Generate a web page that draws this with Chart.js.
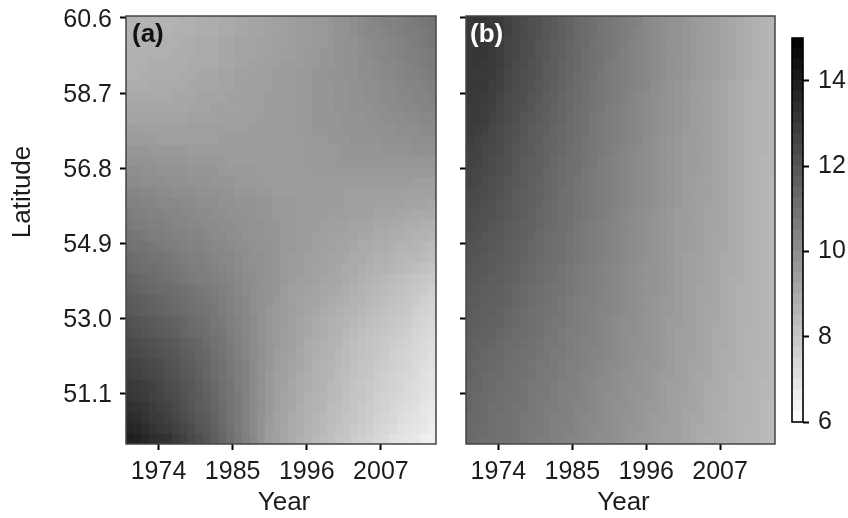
<!DOCTYPE html>
<html><head><meta charset="utf-8">
<style>html,body{margin:0;padding:0;background:#fff;width:848px;height:518px;overflow:hidden}canvas{position:absolute;top:0}</style>
<script src="https://cdn.jsdelivr.net/npm/chart.js@4"></script>
</head><body>
<canvas id="ca" width="440" height="518" style="left:0"></canvas>
<canvas id="cb" width="340" height="518" style="left:440px"></canvas>
<canvas id="cc" width="68" height="518" style="left:780px"></canvas>
<script>
const years=[1969.75,1970.9,1972.05,1973.2,1974.35,1975.5,1976.65,1977.8,1978.95,1980.1,1981.25,1982.4,1983.55,1984.7,1985.85,1987,1988.15,1989.3,1990.45,1991.6,1992.75,1993.9,1995.05,1996.2,1997.35,1998.5,1999.65,2000.8,2001.95,2003.1,2004.25,2005.4,2006.55,2007.7,2008.85,2010,2011.15,2012.3,2013.45,2014.6];
const latEdges=[60.65,60.38,60.11,59.84,59.57,59.30,59.03,58.75,58.48,58.21,57.94,57.67,57.40,57.13,56.86,56.59,56.32,56.05,55.78,55.51,55.24,54.97,54.69,54.42,54.15,53.88,53.61,53.34,53.07,52.80,52.53,52.26,51.99,51.72,51.45,51.18,50.91,50.63,50.36,50.09,49.82];
const yearTicks=[1974,1985,1996,2007];
const latTicks=[51.1,53.0,54.9,56.8,58.7,60.6];
const barTicks=[6,8,10,12,14];
const barLevels=[6,6.25,6.5,6.75,7,7.25,7.5,7.75,8,8.25,8.5,8.75,9,9.25,9.5,9.75,10,10.25,10.5,10.75,11,11.25,11.5,11.75,12,12.25,12.5,12.75,13,13.25,13.5,13.75,14,14.25,14.5,14.75];
const panelA=[
[8.7,8.7,8.7,8.7,8.7, 8.7,8.7,8.8,8.8,8.9, 8.9,8.9,9.0,9.0,9.1, 9.1,9.2,9.2,9.3,9.3, 9.4,9.4,9.5,9.5,9.6, 9.6,9.7,9.8,9.9,10.0, 10.1,10.2,10.3,10.4,10.4, 10.5,10.6,10.7,10.8,10.9],
[8.7,8.7,8.7,8.7,8.7, 8.7,8.8,8.8,8.8,8.9, 8.9,8.9,9.0,9.0,9.1, 9.1,9.2,9.2,9.3,9.3, 9.4,9.4,9.5,9.5,9.6, 9.6,9.7,9.8,9.9,10.0, 10.1,10.2,10.2,10.3,10.4, 10.5,10.6,10.6,10.7,10.8],
[8.7,8.7,8.7,8.8,8.8, 8.8,8.8,8.9,8.9,9.0, 9.0,9.0,9.1,9.1,9.2, 9.2,9.2,9.3,9.3,9.4, 9.4,9.4,9.5,9.5,9.6, 9.6,9.7,9.8,9.9,9.9, 10.0,10.1,10.2,10.2,10.3, 10.4,10.5,10.6,10.7,10.8],
[8.8,8.8,8.8,8.8,8.8, 8.8,8.9,8.9,8.9,9.0, 9.0,9.0,9.1,9.1,9.2, 9.2,9.2,9.3,9.3,9.4, 9.4,9.4,9.5,9.6,9.6, 9.7,9.7,9.8,9.9,9.9, 10.0,10.1,10.2,10.2,10.3, 10.4,10.5,10.5,10.6,10.7],
[8.8,8.8,8.8,8.9,8.9, 8.9,8.9,8.9,9.0,9.0, 9.0,9.0,9.1,9.1,9.2, 9.2,9.3,9.3,9.4,9.4, 9.5,9.5,9.5,9.6,9.6, 9.7,9.7,9.8,9.8,9.9, 10.0,10.0,10.1,10.2,10.2, 10.3,10.4,10.5,10.6,10.7],
[8.8,8.8,8.9,8.9,8.9, 8.9,8.9,9.0,9.0,9.1, 9.1,9.1,9.2,9.2,9.3, 9.3,9.3,9.4,9.4,9.5, 9.5,9.5,9.6,9.6,9.7, 9.7,9.8,9.8,9.9,9.9, 10.0,10.0,10.1,10.2,10.2, 10.3,10.4,10.4,10.5,10.6],
[8.9,8.9,8.9,9.0,9.0, 9.0,9.0,9.0,9.1,9.1, 9.1,9.1,9.2,9.2,9.3, 9.3,9.3,9.4,9.4,9.5, 9.5,9.5,9.6,9.6,9.7, 9.7,9.7,9.8,9.8,9.9, 9.9,10.0,10.0,10.1,10.1, 10.2,10.3,10.3,10.4,10.5],
[9.0,9.0,9.0,9.0,9.0, 9.0,9.1,9.1,9.1,9.2, 9.2,9.2,9.2,9.3,9.3, 9.3,9.4,9.4,9.5,9.5, 9.5,9.5,9.6,9.6,9.7, 9.7,9.7,9.8,9.8,9.9, 9.9,10.0,10.0,10.1,10.1, 10.2,10.2,10.3,10.3,10.4],
[9.1,9.1,9.1,9.1,9.1, 9.1,9.1,9.1,9.2,9.2, 9.2,9.3,9.3,9.3,9.3, 9.4,9.4,9.4,9.5,9.5, 9.5,9.5,9.6,9.6,9.7, 9.7,9.7,9.8,9.8,9.9, 9.9,9.9,10.0,10.0,10.1, 10.1,10.2,10.2,10.3,10.3],
[9.2,9.2,9.2,9.2,9.2, 9.2,9.2,9.2,9.3,9.3, 9.3,9.3,9.3,9.4,9.4, 9.4,9.4,9.5,9.5,9.5, 9.5,9.5,9.6,9.6,9.7, 9.7,9.7,9.7,9.8,9.8, 9.8,9.9,9.9,10.0,10.0, 10.0,10.1,10.1,10.2,10.2],
[9.4,9.4,9.4,9.3,9.3, 9.3,9.3,9.3,9.4,9.4, 9.4,9.4,9.4,9.4,9.4, 9.4,9.5,9.5,9.5,9.5, 9.5,9.5,9.6,9.6,9.7, 9.7,9.7,9.7,9.8,9.8, 9.8,9.8,9.9,9.9,9.9, 10.0,10.0,10.0,10.1,10.1],
[9.5,9.5,9.5,9.5,9.4, 9.4,9.4,9.4,9.4,9.4, 9.4,9.4,9.5,9.5,9.5, 9.5,9.5,9.5,9.5,9.5, 9.5,9.5,9.5,9.6,9.6, 9.6,9.7,9.7,9.7,9.8, 9.8,9.8,9.8,9.9,9.9, 9.9,9.9,10.0,10.0,10.0],
[9.7,9.7,9.7,9.6,9.6, 9.6,9.6,9.6,9.5,9.5, 9.5,9.5,9.5,9.5,9.5, 9.5,9.5,9.5,9.5,9.5, 9.5,9.5,9.5,9.6,9.6, 9.6,9.6,9.6,9.7,9.7, 9.7,9.7,9.7,9.8,9.8, 9.8,9.8,9.9,9.9,9.9],
[9.8,9.8,9.8,9.8,9.7, 9.7,9.7,9.7,9.6,9.6, 9.6,9.6,9.6,9.5,9.5, 9.5,9.5,9.5,9.5,9.5, 9.5,9.5,9.5,9.6,9.6, 9.6,9.6,9.6,9.7,9.7, 9.7,9.7,9.7,9.7,9.7, 9.7,9.7,9.7,9.7,9.7],
[10.0,10.0,9.9,9.9,9.8, 9.8,9.8,9.8,9.7,9.7, 9.7,9.7,9.6,9.6,9.6, 9.6,9.6,9.5,9.5,9.5, 9.5,9.5,9.5,9.5,9.6, 9.6,9.6,9.6,9.6,9.6, 9.6,9.6,9.6,9.6,9.6, 9.6,9.6,9.6,9.6,9.6],
[10.1,10.1,10.0,10.0,10.0, 9.9,9.9,9.9,9.8,9.8, 9.8,9.7,9.7,9.7,9.6, 9.6,9.6,9.6,9.5,9.5, 9.5,9.5,9.5,9.5,9.5, 9.5,9.5,9.5,9.5,9.5, 9.5,9.5,9.5,9.5,9.5, 9.5,9.5,9.4,9.4,9.4],
[10.3,10.3,10.2,10.2,10.1, 10.1,10.0,10.0,10.0,9.9, 9.9,9.9,9.8,9.8,9.7, 9.7,9.7,9.6,9.6,9.5, 9.5,9.5,9.5,9.5,9.5, 9.5,9.5,9.5,9.4,9.4, 9.4,9.4,9.4,9.4,9.4, 9.3,9.3,9.3,9.3,9.3],
[10.4,10.4,10.3,10.3,10.2, 10.2,10.2,10.1,10.1,10.0, 10.0,10.0,9.9,9.9,9.8, 9.8,9.8,9.7,9.7,9.6, 9.6,9.6,9.5,9.5,9.5, 9.5,9.5,9.5,9.4,9.4, 9.4,9.4,9.3,9.3,9.3, 9.3,9.2,9.2,9.2,9.1],
[10.6,10.5,10.5,10.4,10.4, 10.3,10.3,10.2,10.2,10.1, 10.1,10.0,10.0,9.9,9.9, 9.8,9.8,9.7,9.7,9.6, 9.6,9.6,9.5,9.5,9.5, 9.5,9.4,9.4,9.4,9.3, 9.3,9.3,9.2,9.2,9.2, 9.1,9.1,9.0,9.0,9.0],
[10.7,10.6,10.6,10.5,10.5, 10.4,10.3,10.3,10.2,10.2, 10.1,10.1,10.0,10.0,9.9, 9.9,9.8,9.8,9.7,9.7, 9.6,9.6,9.5,9.5,9.5, 9.4,9.4,9.3,9.3,9.2, 9.2,9.2,9.1,9.1,9.0, 9.0,8.9,8.9,8.8,8.8],
[10.9,10.8,10.7,10.6,10.6, 10.5,10.4,10.4,10.3,10.3, 10.2,10.1,10.1,10.0,10.0, 9.9,9.8,9.8,9.7,9.7, 9.6,9.6,9.5,9.5,9.4, 9.4,9.3,9.3,9.2,9.2, 9.1,9.1,9.0,9.0,8.9, 8.9,8.8,8.7,8.7,8.6],
[11.0,10.9,10.9,10.8,10.7, 10.6,10.6,10.5,10.4,10.4, 10.3,10.2,10.2,10.1,10.0, 10.0,9.9,9.8,9.8,9.7, 9.6,9.6,9.5,9.5,9.4, 9.3,9.3,9.2,9.2,9.1, 9.0,9.0,8.9,8.9,8.8, 8.7,8.7,8.6,8.5,8.4],
[11.2,11.1,11.0,10.9,10.9, 10.8,10.7,10.6,10.5,10.5, 10.4,10.3,10.2,10.2,10.1, 10.0,9.9,9.9,9.8,9.7, 9.6,9.5,9.5,9.4,9.4, 9.3,9.2,9.2,9.1,9.0, 9.0,8.9,8.8,8.8,8.7, 8.6,8.5,8.5,8.4,8.3],
[11.3,11.2,11.1,11.1,11.0, 10.9,10.8,10.7,10.6,10.6, 10.5,10.4,10.3,10.2,10.1, 10.0,10.0,9.9,9.8,9.7, 9.6,9.5,9.5,9.4,9.3, 9.3,9.2,9.1,9.0,9.0, 8.9,8.8,8.7,8.7,8.6, 8.5,8.4,8.3,8.2,8.1],
[11.5,11.4,11.3,11.2,11.1, 11.0,10.9,10.8,10.7,10.6, 10.6,10.5,10.4,10.3,10.2, 10.1,10.0,9.9,9.8,9.7, 9.6,9.5,9.4,9.4,9.3, 9.2,9.1,9.1,9.0,8.9, 8.8,8.7,8.6,8.5,8.4, 8.3,8.2,8.1,8.0,7.9],
[11.6,11.5,11.4,11.3,11.2, 11.2,11.1,11.0,10.9,10.8, 10.7,10.6,10.5,10.4,10.2, 10.1,10.0,9.9,9.8,9.7, 9.5,9.4,9.4,9.3,9.2, 9.1,9.1,9.0,8.9,8.8, 8.7,8.6,8.5,8.4,8.3, 8.2,8.1,8.0,7.9,7.7],
[11.8,11.7,11.6,11.5,11.4, 11.3,11.2,11.1,11.0,10.9, 10.8,10.7,10.6,10.4,10.3, 10.2,10.0,9.9,9.8,9.6, 9.5,9.4,9.3,9.2,9.2, 9.1,9.0,8.9,8.8,8.7, 8.6,8.5,8.4,8.3,8.2, 8.1,8.0,7.9,7.7,7.6],
[11.9,11.8,11.7,11.6,11.5, 11.4,11.3,11.2,11.1,11.0, 10.9,10.8,10.6,10.5,10.3, 10.2,10.0,9.9,9.7,9.6, 9.5,9.4,9.3,9.2,9.1, 9.0,8.9,8.8,8.7,8.6, 8.5,8.4,8.3,8.2,8.1, 8.0,7.9,7.7,7.6,7.5],
[12.1,12.0,11.9,11.8,11.7, 11.6,11.5,11.4,11.2,11.1, 11.0,10.8,10.7,10.5,10.4, 10.2,10.1,9.9,9.7,9.6, 9.5,9.4,9.2,9.1,9.0, 8.9,8.8,8.7,8.6,8.5, 8.4,8.3,8.2,8.1,8.0, 7.9,7.8,7.6,7.5,7.4],
[12.2,12.1,12.0,11.9,11.8, 11.7,11.6,11.4,11.3,11.2, 11.1,10.9,10.8,10.6,10.4, 10.2,10.1,9.9,9.7,9.6, 9.4,9.3,9.2,9.1,9.0, 8.9,8.8,8.7,8.5,8.4, 8.3,8.2,8.1,8.0,7.9, 7.8,7.7,7.5,7.4,7.3],
[12.4,12.3,12.2,12.1,12.0, 11.9,11.8,11.6,11.5,11.4, 11.2,11.0,10.9,10.7,10.5, 10.3,10.1,9.9,9.7,9.6, 9.4,9.3,9.2,9.0,8.9, 8.8,8.7,8.6,8.4,8.3, 8.2,8.1,8.0,7.9,7.8, 7.7,7.6,7.4,7.3,7.2],
[12.5,12.4,12.3,12.2,12.1, 12.0,11.9,11.7,11.6,11.4, 11.3,11.1,10.9,10.7,10.5, 10.3,10.1,9.9,9.7,9.5, 9.4,9.3,9.1,9.0,8.9, 8.8,8.7,8.5,8.4,8.3, 8.2,8.1,8.0,7.9,7.7, 7.6,7.5,7.4,7.3,7.1],
[12.7,12.6,12.5,12.4,12.3, 12.1,12.0,11.8,11.7,11.5, 11.4,11.2,11.0,10.8,10.6, 10.4,10.1,9.9,9.7,9.5, 9.3,9.2,9.1,9.0,8.8, 8.7,8.6,8.5,8.4,8.2, 8.1,8.0,7.9,7.8,7.7, 7.6,7.5,7.3,7.2,7.1],
[12.8,12.7,12.6,12.5,12.4, 12.2,12.1,11.9,11.8,11.6, 11.4,11.2,11.0,10.8,10.6, 10.4,10.1,9.9,9.6,9.4, 9.3,9.2,9.0,8.9,8.8, 8.7,8.6,8.4,8.3,8.2, 8.1,8.0,7.8,7.7,7.6, 7.5,7.4,7.3,7.1,7.0],
[13.0,12.9,12.8,12.7,12.5, 12.3,12.2,12.0,11.9,11.7, 11.5,11.3,11.1,10.9,10.6, 10.4,10.1,9.9,9.6,9.4, 9.3,9.1,9.0,8.9,8.8, 8.7,8.5,8.4,8.3,8.1, 8.0,7.9,7.8,7.7,7.6, 7.5,7.3,7.2,7.1,7.0],
[13.1,13.0,12.9,12.7,12.6, 12.4,12.3,12.1,11.9,11.8, 11.6,11.4,11.1,10.9,10.7, 10.4,10.1,9.9,9.6,9.4, 9.2,9.1,9.0,8.8,8.7, 8.6,8.5,8.4,8.2,8.1, 8.0,7.9,7.7,7.6,7.5, 7.4,7.3,7.2,7.0,6.9],
[13.3,13.2,13.1,12.9,12.7, 12.6,12.4,12.2,12.0,11.8, 11.7,11.4,11.2,10.9,10.7, 10.4,10.1,9.9,9.6,9.4, 9.2,9.1,8.9,8.8,8.7, 8.6,8.4,8.3,8.2,8.1, 7.9,7.8,7.7,7.6,7.4, 7.3,7.2,7.1,6.9,6.8],
[13.5,13.4,13.2,13.0,12.9, 12.7,12.5,12.3,12.1,11.9, 11.8,11.5,11.2,10.9,10.7, 10.4,10.1,9.8,9.6,9.3, 9.2,9.0,8.9,8.8,8.6, 8.5,8.4,8.3,8.1,8.0, 7.9,7.8,7.6,7.5,7.4, 7.2,7.1,7.0,6.9,6.7],
[13.7,13.6,13.4,13.2,13.0, 12.9,12.7,12.5,12.3,12.0, 11.9,11.6,11.3,11.0,10.7, 10.4,10.1,9.8,9.5,9.3, 9.1,9.0,8.9,8.7,8.6, 8.5,8.3,8.2,8.1,7.9, 7.8,7.7,7.5,7.4,7.3, 7.1,7.0,6.9,6.8,6.6],
[13.9,13.8,13.6,13.4,13.3, 13.2,12.9,12.7,12.4,12.2, 12.0,11.7,11.4,11.1,10.8, 10.5,10.2,9.8,9.5,9.3, 9.1,9.0,8.8,8.7,8.5, 8.4,8.3,8.1,8.0,7.8, 7.7,7.6,7.4,7.3,7.1, 7.0,6.9,6.8,6.6,6.5]
];
const panelB=[
[13.0,13.1,13.1,13.0,12.9, 12.7,12.5,12.4,12.2,12.1, 11.9,11.8,11.6,11.5,11.3, 11.2,11.1,10.9,10.8,10.7, 10.6,10.5,10.4,10.2,10.1, 10.0,9.9,9.8,9.7,9.6, 9.5,9.4,9.3,9.2,9.1, 9.0,8.9,8.8,8.7,8.6],
[13.0,13.1,13.1,13.0,12.9, 12.7,12.5,12.4,12.2,12.1, 11.9,11.8,11.6,11.5,11.3, 11.2,11.1,10.9,10.8,10.7, 10.6,10.5,10.3,10.2,10.1, 10.0,9.9,9.8,9.7,9.6, 9.5,9.4,9.3,9.2,9.1, 9.0,8.9,8.8,8.7,8.6],
[13.0,13.1,13.1,13.0,12.8, 12.6,12.5,12.3,12.2,12.0, 11.9,11.7,11.6,11.4,11.3, 11.2,11.0,10.9,10.8,10.7, 10.6,10.4,10.3,10.2,10.1, 10.0,9.9,9.8,9.7,9.6, 9.5,9.4,9.3,9.2,9.1, 9.0,8.9,8.8,8.7,8.6],
[13.0,13.1,13.1,12.9,12.8, 12.6,12.5,12.3,12.2,12.0, 11.9,11.7,11.6,11.4,11.3, 11.1,11.0,10.9,10.8,10.7, 10.5,10.4,10.3,10.2,10.1, 10.0,9.9,9.8,9.7,9.6, 9.5,9.4,9.3,9.2,9.1, 9.0,8.9,8.8,8.7,8.6],
[13.0,13.1,13.0,12.9,12.8, 12.6,12.4,12.3,12.1,12.0, 11.8,11.7,11.5,11.4,11.3, 11.1,11.0,10.9,10.7,10.6, 10.5,10.4,10.3,10.2,10.1, 10.0,9.9,9.8,9.7,9.6, 9.5,9.4,9.3,9.2,9.1, 9.0,8.9,8.8,8.7,8.6],
[13.0,13.0,13.0,12.9,12.7, 12.5,12.4,12.2,12.1,12.0, 11.8,11.7,11.5,11.4,11.2, 11.1,11.0,10.8,10.7,10.6, 10.5,10.4,10.3,10.2,10.1, 10.0,9.9,9.8,9.7,9.6, 9.5,9.4,9.3,9.2,9.1, 9.0,8.9,8.8,8.7,8.6],
[13.0,13.0,13.0,12.8,12.7, 12.5,12.3,12.2,12.1,11.9, 11.8,11.6,11.5,11.3,11.2, 11.1,10.9,10.8,10.7,10.6, 10.5,10.4,10.3,10.2,10.0, 9.9,9.8,9.7,9.6,9.5, 9.4,9.3,9.2,9.1,9.0, 8.9,8.8,8.7,8.7,8.6],
[13.0,13.0,12.9,12.8,12.6, 12.4,12.3,12.2,12.0,11.9, 11.7,11.6,11.4,11.3,11.2, 11.0,10.9,10.8,10.7,10.6, 10.5,10.3,10.2,10.1,10.0, 9.9,9.8,9.7,9.6,9.5, 9.4,9.3,9.2,9.1,9.0, 8.9,8.8,8.7,8.7,8.6],
[12.9,12.9,12.8,12.7,12.5, 12.4,12.2,12.1,12.0,11.8, 11.7,11.5,11.4,11.3,11.1, 11.0,10.9,10.8,10.6,10.5, 10.4,10.3,10.2,10.1,10.0, 9.9,9.8,9.7,9.6,9.5, 9.4,9.3,9.2,9.1,9.0, 8.9,8.8,8.7,8.7,8.6],
[12.9,12.9,12.8,12.6,12.5, 12.3,12.2,12.0,11.9,11.8, 11.6,11.5,11.4,11.2,11.1, 11.0,10.8,10.7,10.6,10.5, 10.4,10.3,10.2,10.1,10.0, 9.9,9.8,9.7,9.6,9.5, 9.4,9.3,9.2,9.1,9.0, 8.9,8.8,8.7,8.7,8.6],
[12.9,12.8,12.7,12.5,12.4, 12.2,12.1,12.0,11.8,11.7, 11.6,11.4,11.3,11.2,11.1, 11.0,10.8,10.7,10.6,10.5, 10.4,10.3,10.2,10.1,10.0, 9.9,9.8,9.7,9.6,9.5, 9.4,9.3,9.2,9.1,9.0, 8.9,8.8,8.7,8.7,8.6],
[12.8,12.7,12.6,12.5,12.3, 12.2,12.1,11.9,11.8,11.7, 11.5,11.4,11.3,11.2,11.0, 10.9,10.8,10.7,10.6,10.5, 10.4,10.3,10.2,10.0,9.9, 9.8,9.7,9.6,9.5,9.5, 9.4,9.3,9.2,9.1,9.0, 8.9,8.8,8.7,8.7,8.6],
[12.7,12.6,12.5,12.4,12.3, 12.1,12.0,11.9,11.8,11.6, 11.5,11.4,11.3,11.1,11.0, 10.9,10.8,10.7,10.6,10.4, 10.3,10.2,10.1,10.0,9.9, 9.8,9.7,9.6,9.5,9.5, 9.4,9.3,9.2,9.1,9.0, 8.9,8.8,8.7,8.7,8.6],
[12.7,12.6,12.5,12.3,12.2, 12.1,12.0,11.8,11.7,11.6, 11.5,11.3,11.2,11.1,11.0, 10.9,10.8,10.6,10.5,10.4, 10.3,10.2,10.1,10.0,9.9, 9.8,9.7,9.6,9.5,9.5, 9.4,9.3,9.2,9.1,9.0, 8.9,8.8,8.7,8.6,8.6],
[12.6,12.5,12.4,12.3,12.2, 12.1,11.9,11.8,11.7,11.6, 11.4,11.3,11.2,11.1,11.0, 10.8,10.7,10.6,10.5,10.4, 10.3,10.2,10.1,10.0,9.9, 9.8,9.7,9.6,9.5,9.5, 9.4,9.3,9.2,9.1,9.0, 8.9,8.8,8.7,8.6,8.6],
[12.6,12.5,12.3,12.2,12.1, 12.0,11.9,11.8,11.6,11.5, 11.4,11.3,11.2,11.1,10.9, 10.8,10.7,10.6,10.5,10.4, 10.3,10.2,10.1,10.0,9.9, 9.8,9.7,9.6,9.5,9.4, 9.3,9.3,9.2,9.1,9.0, 8.9,8.8,8.7,8.6,8.5],
[12.5,12.4,12.3,12.2,12.1, 12.0,11.8,11.7,11.6,11.5, 11.4,11.3,11.1,11.0,10.9, 10.8,10.7,10.6,10.5,10.4, 10.3,10.2,10.1,10.0,9.9, 9.8,9.7,9.6,9.5,9.4, 9.3,9.3,9.2,9.1,9.0, 8.9,8.8,8.7,8.6,8.5],
[12.4,12.3,12.2,12.1,12.0, 11.9,11.8,11.7,11.6,11.5, 11.3,11.2,11.1,11.0,10.9, 10.8,10.7,10.6,10.5,10.4, 10.3,10.2,10.1,10.0,9.9, 9.8,9.7,9.6,9.5,9.4, 9.3,9.3,9.2,9.1,9.0, 8.9,8.8,8.7,8.6,8.5],
[12.3,12.2,12.1,12.1,12.0, 11.9,11.8,11.7,11.5,11.4, 11.3,11.2,11.1,11.0,10.9, 10.8,10.7,10.6,10.5,10.3, 10.2,10.1,10.0,9.9,9.8, 9.7,9.6,9.5,9.5,9.4, 9.3,9.2,9.2,9.1,9.0, 8.9,8.8,8.7,8.6,8.5],
[12.3,12.2,12.1,12.0,11.9, 11.8,11.7,11.6,11.5,11.4, 11.3,11.2,11.1,11.0,10.8, 10.7,10.6,10.5,10.4,10.3, 10.2,10.1,10.0,9.9,9.8, 9.7,9.6,9.5,9.5,9.4, 9.3,9.2,9.2,9.1,9.0, 8.9,8.8,8.7,8.6,8.5],
[12.2,12.1,12.0,11.9,11.9, 11.8,11.7,11.6,11.5,11.3, 11.2,11.1,11.0,10.9,10.8, 10.7,10.6,10.5,10.4,10.3, 10.2,10.1,10.0,9.9,9.8, 9.7,9.6,9.5,9.5,9.4, 9.3,9.2,9.1,9.1,9.0, 8.9,8.8,8.7,8.6,8.5],
[12.1,12.0,12.0,11.9,11.8, 11.7,11.6,11.5,11.4,11.3, 11.2,11.1,11.0,10.9,10.8, 10.7,10.6,10.5,10.4,10.3, 10.2,10.1,10.0,9.9,9.8, 9.7,9.6,9.5,9.5,9.4, 9.3,9.2,9.1,9.1,9.0, 8.9,8.8,8.7,8.6,8.5],
[12.1,12.0,11.9,11.8,11.8, 11.7,11.6,11.5,11.4,11.3, 11.2,11.1,11.0,10.9,10.8, 10.7,10.6,10.5,10.4,10.3, 10.2,10.1,10.0,9.9,9.8, 9.7,9.6,9.5,9.4,9.3, 9.3,9.2,9.1,9.0,9.0, 8.9,8.8,8.7,8.6,8.5],
[12.0,11.9,11.9,11.8,11.7, 11.6,11.5,11.4,11.3,11.2, 11.1,11.0,10.9,10.8,10.7, 10.6,10.5,10.4,10.3,10.2, 10.1,10.0,9.9,9.8,9.8, 9.7,9.6,9.5,9.4,9.3, 9.3,9.2,9.1,9.0,9.0, 8.9,8.8,8.7,8.6,8.5],
[11.9,11.9,11.8,11.7,11.7, 11.6,11.5,11.4,11.3,11.2, 11.1,11.0,10.9,10.8,10.7, 10.6,10.5,10.4,10.3,10.2, 10.1,10.0,9.9,9.8,9.8, 9.7,9.6,9.5,9.4,9.3, 9.3,9.2,9.1,9.0,8.9, 8.9,8.8,8.7,8.6,8.5],
[11.9,11.8,11.7,11.7,11.6, 11.5,11.4,11.3,11.2,11.1, 11.0,10.9,10.9,10.8,10.7, 10.6,10.5,10.4,10.3,10.2, 10.1,10.0,9.9,9.8,9.8, 9.7,9.6,9.5,9.4,9.3, 9.2,9.2,9.1,9.0,8.9, 8.8,8.8,8.7,8.6,8.5],
[11.8,11.8,11.7,11.6,11.6, 11.5,11.4,11.3,11.2,11.1, 11.0,10.9,10.8,10.7,10.6, 10.5,10.5,10.4,10.3,10.2, 10.1,10.0,9.9,9.8,9.7, 9.6,9.6,9.5,9.4,9.3, 9.2,9.2,9.1,9.0,8.9, 8.8,8.8,8.7,8.6,8.5],
[11.8,11.7,11.6,11.6,11.5, 11.4,11.3,11.2,11.1,11.0, 10.9,10.9,10.8,10.7,10.6, 10.5,10.4,10.3,10.3,10.2, 10.1,10.0,9.9,9.8,9.7, 9.6,9.6,9.5,9.4,9.3, 9.2,9.1,9.1,9.0,8.9, 8.8,8.8,8.7,8.6,8.5],
[11.7,11.7,11.6,11.5,11.5, 11.4,11.3,11.2,11.1,11.0, 10.9,10.8,10.8,10.7,10.6, 10.5,10.4,10.3,10.2,10.1, 10.0,10.0,9.9,9.8,9.7, 9.6,9.5,9.5,9.4,9.3, 9.2,9.1,9.1,9.0,8.9, 8.8,8.8,8.7,8.6,8.5],
[11.7,11.6,11.5,11.5,11.4, 11.3,11.2,11.2,11.1,11.0, 10.9,10.8,10.7,10.6,10.6, 10.5,10.4,10.3,10.2,10.1, 10.0,10.0,9.9,9.8,9.7, 9.6,9.5,9.4,9.4,9.3, 9.2,9.1,9.0,9.0,8.9, 8.8,8.7,8.7,8.6,8.5],
[11.6,11.5,11.5,11.4,11.3, 11.2,11.2,11.1,11.0,10.9, 10.8,10.8,10.7,10.6,10.5, 10.4,10.4,10.3,10.2,10.1, 10.0,9.9,9.9,9.8,9.7, 9.6,9.5,9.4,9.4,9.3, 9.2,9.1,9.0,9.0,8.9, 8.8,8.7,8.7,8.6,8.5],
[11.6,11.5,11.4,11.3,11.3, 11.2,11.1,11.0,11.0,10.9, 10.8,10.7,10.7,10.6,10.5, 10.4,10.3,10.3,10.2,10.1, 10.0,9.9,9.8,9.8,9.7, 9.6,9.5,9.4,9.3,9.3, 9.2,9.1,9.0,8.9,8.9, 8.8,8.7,8.7,8.6,8.5],
[11.5,11.4,11.4,11.3,11.2, 11.1,11.1,11.0,10.9,10.8, 10.8,10.7,10.6,10.5,10.5, 10.4,10.3,10.2,10.1,10.1, 10.0,9.9,9.8,9.7,9.7, 9.6,9.5,9.4,9.3,9.2, 9.2,9.1,9.0,8.9,8.9, 8.8,8.7,8.6,8.6,8.5],
[11.5,11.4,11.3,11.2,11.2, 11.1,11.0,11.0,10.9,10.8, 10.7,10.7,10.6,10.5,10.4, 10.3,10.3,10.2,10.1,10.0, 9.9,9.9,9.8,9.7,9.6, 9.5,9.5,9.4,9.3,9.2, 9.1,9.1,9.0,8.9,8.8, 8.8,8.7,8.6,8.6,8.5],
[11.4,11.4,11.3,11.2,11.1, 11.1,11.0,10.9,10.8,10.8, 10.7,10.6,10.5,10.5,10.4, 10.3,10.2,10.1,10.1,10.0, 9.9,9.8,9.8,9.7,9.6, 9.5,9.4,9.4,9.3,9.2, 9.1,9.0,9.0,8.9,8.8, 8.7,8.7,8.6,8.5,8.5],
[11.4,11.3,11.2,11.2,11.1, 11.0,11.0,10.9,10.8,10.7, 10.7,10.6,10.5,10.4,10.4, 10.3,10.2,10.1,10.0,10.0, 9.9,9.8,9.7,9.7,9.6, 9.5,9.4,9.3,9.3,9.2, 9.1,9.0,8.9,8.9,8.8, 8.7,8.7,8.6,8.5,8.5],
[11.4,11.3,11.2,11.1,11.1, 11.0,10.9,10.9,10.8,10.7, 10.6,10.6,10.5,10.4,10.3, 10.3,10.2,10.1,10.0,9.9, 9.9,9.8,9.7,9.6,9.6, 9.5,9.4,9.3,9.2,9.2, 9.1,9.0,8.9,8.9,8.8, 8.7,8.7,8.6,8.5,8.4],
[11.3,11.3,11.2,11.1,11.0, 11.0,10.9,10.8,10.8,10.7, 10.6,10.5,10.5,10.4,10.3, 10.2,10.2,10.1,10.0,9.9, 9.8,9.8,9.7,9.6,9.5, 9.5,9.4,9.3,9.2,9.1, 9.1,9.0,8.9,8.8,8.8, 8.7,8.7,8.6,8.5,8.4],
[11.3,11.2,11.2,11.1,11.0, 11.0,10.9,10.8,10.7,10.7, 10.6,10.5,10.4,10.4,10.3, 10.2,10.1,10.1,10.0,9.9, 9.8,9.7,9.7,9.6,9.5, 9.4,9.4,9.3,9.2,9.1, 9.0,9.0,8.9,8.8,8.8, 8.7,8.6,8.6,8.5,8.4],
[11.3,11.2,11.1,11.1,11.0, 11.0,10.9,10.8,10.7,10.6, 10.6,10.5,10.4,10.3,10.3, 10.2,10.1,10.0,10.0,9.9, 9.8,9.7,9.6,9.6,9.5, 9.4,9.3,9.3,9.2,9.1, 9.0,8.9,8.9,8.8,8.8, 8.7,8.6,8.6,8.5,8.4]
];
const FONT='"Liberation Sans", Arial, sans-serif';
const TXT='#1c1c1c';
function grey(v){const g=Math.round(255*(15-v)/9);return `rgb(${g},${g},${g})`;}
function frame(color,w){return {id:'frame',afterDatasetsDraw(c){const a=c.chartArea,x=c.ctx;x.save();x.strokeStyle=color;x.lineWidth=w;x.strokeRect(a.left,a.top,a.right-a.left,a.bottom-a.top);x.restore();}};}
function tag(text,color,dx){return {id:'tag',afterDraw(c){const x=c.ctx;x.save();x.font='bold 26px '+FONT;x.fillStyle=color;x.textBaseline='alphabetic';x.fillText(text,c.chartArea.left+dx,42);x.restore();}};}
const latTitle={id:'latTitle',afterDraw(c){const x=c.ctx;x.save();x.translate(23,192);x.rotate(-Math.PI/2);x.font='26px '+FONT;x.fillStyle=TXT;x.textAlign='center';x.textBaseline='middle';x.fillText('Latitude',0,0);x.restore();}};
const yearTitle={id:'yearTitle',afterDraw(c){const x=c.ctx,a=c.chartArea;x.save();x.font='26px '+FONT;x.fillStyle=TXT;x.textAlign='center';x.textBaseline='middle';x.fillText('Year',(a.left+a.right)/2+3,503);x.restore();}};
function heat(id,matrix,opts){
  const datasets=matrix.map((row,j)=>({
    data:row.map((v,i)=>({x:years[i],y:[latEdges[j+1],latEdges[j]]})),
    backgroundColor:row.map(grey),
    borderWidth:0,inflateAmount:0.6,barPercentage:1,categoryPercentage:1,grouped:false
  }));
  const pl=[frame('#444',1.5),tag(opts.tag,opts.tagColor,opts.tagDx),yearTitle];
  if(opts.showLat)pl.push(latTitle);
  return new Chart(document.getElementById(id),{
    type:'bar',data:{datasets},
    plugins:pl,
    options:{responsive:false,animation:false,events:[],
      layout:{padding:{top:16,right:opts.right,left:0,bottom:0}},
      plugins:{legend:{display:false},tooltip:{enabled:false}},
      scales:{
        x:{type:'linear',offset:false,min:1969.175,max:2015.175,
          afterBuildTicks(s){s.ticks=yearTicks.map(v=>({value:v}));},
          afterFit(s){s.height=74;s.paddingLeft=0;s.paddingRight=0;},
          grid:{offset:false,drawOnChartArea:false,drawTicks:true,tickLength:6,tickWidth:2,tickColor:'#000'},
          border:{display:false},
          ticks:{autoSkip:false,maxRotation:0,padding:7,color:TXT,font:{family:FONT,size:25},callback:v=>String(v)}},
        y:{type:'linear',min:49.82,max:60.65,
          afterBuildTicks(s){s.ticks=latTicks.map(v=>({value:v}));},
          afterFit(s){s.width=opts.yWidth;s.paddingTop=0;s.paddingBottom=0;},
          grid:{drawOnChartArea:false,drawTicks:true,tickLength:6,tickWidth:2,tickColor:'#000'},
          border:{display:false},
          ticks:{autoSkip:false,padding:8,labelOffset:2,color:TXT,font:{family:FONT,size:25},callback:v=>opts.showLat?Number(v).toFixed(1):''}}
      }}
  });
}
heat('ca',panelA,{tag:'(a)',tagColor:'#111',tagDx:6,right:4,yWidth:126,showLat:true});
heat('cb',panelB,{tag:'(b)',tagColor:'#fff',tagDx:4,right:5,yWidth:26,showLat:false});
new Chart(document.getElementById('cc'),{
  type:'bar',
  data:{labels:['scale'],datasets:barLevels.map(l=>({data:[[l,l+0.25]],backgroundColor:grey(l+0.125),borderWidth:0,inflateAmount:0.6,barPercentage:1,categoryPercentage:1,grouped:false}))},
  plugins:[frame('#000',1.6)],
  options:{responsive:false,animation:false,events:[],
    layout:{padding:{top:38,bottom:96,left:12,right:0}},
    plugins:{legend:{display:false},tooltip:{enabled:false}},
    scales:{
      x:{display:false},
      y:{position:'right',type:'linear',min:6,max:15,
        afterBuildTicks(s){s.ticks=barTicks.map(v=>({value:v}));},
        afterFit(s){s.width=45;s.paddingTop=0;s.paddingBottom=0;},
        grid:{drawOnChartArea:false,drawTicks:true,tickLength:6,tickWidth:2,tickColor:'#000'},
        border:{display:false},
        ticks:{autoSkip:false,padding:9,color:TXT,font:{family:FONT,size:25},callback:v=>String(v)}}
    }}
});
</script>
</body></html>
